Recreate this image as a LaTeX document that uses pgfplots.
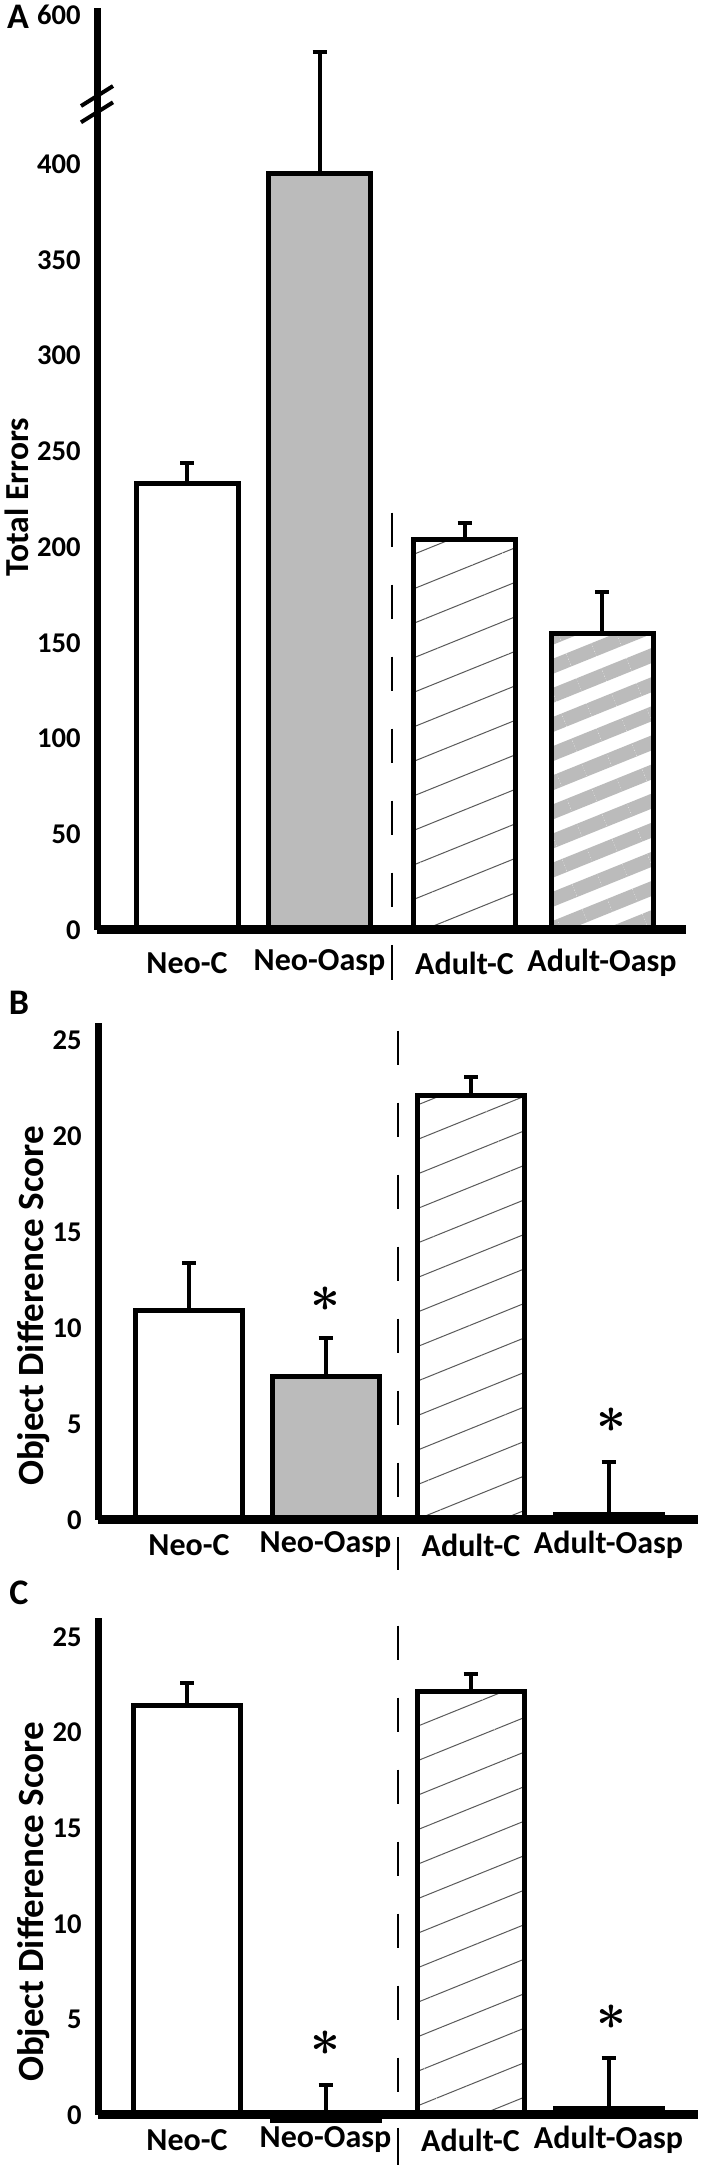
\documentclass[border=0pt]{standalone}
\usepackage{pgfplots}
\pgfplotsset{compat=1.18}
\usepackage{graphicx}
\usepackage{fontspec}
\setmainfont{Carlito}
\usetikzlibrary{patterns.meta}

\definecolor{barGray}{RGB}{187,187,187}
\definecolor{hatchGray}{RGB}{90,90,90}

\pgfplotsset{
  panel/.style={
    scale only axis, anchor=south west, clip=false, axis on top,
    axis x line*=bottom, axis y line*=left,
    x axis line style={line width=4.5pt,-},
    y axis line style={line width=3.5pt,-},
    xmin=0, ymin=0, major tick length=0pt,
    xticklabels={Neo-C,Neo-Oasp,Adult-C,Adult-Oasp},
    xticklabel style={font=\bfseries\fontsize{16}{18}\selectfont, anchor=center, inner sep=0pt},
    yticklabel style={font=\bfseries\fontsize{14.3}{16}\selectfont, anchor=east, inner sep=0pt, xshift=-8pt},
    error bars/y dir=plus, error bars/y explicit,
    error bars/error bar style={line width=2pt, black, solid},
    error bars/error mark options={rotate=90, line width=2pt, mark size=3.5pt, black, solid},
  },
  plain bar/.style={ybar, bar shift=0pt, draw=black, line width=2.5pt, fill=white},
  gray bar/.style={ybar, bar shift=0pt, draw=black, line width=2.5pt, fill=barGray},
  hatch bar/.style={ybar, bar shift=0pt, draw=black, line width=2.5pt, preaction={fill=white},
    pattern={Lines[angle=22,distance=16pt,line width=0.5pt]}, pattern color=hatchGray},
  stripe bar/.style={ybar, bar shift=0pt, draw=black, line width=2.5pt, preaction={fill=white},
    pattern={Lines[angle=22,distance=13.5pt,line width=7pt]}, pattern color=barGray},
}
\tikzset{divider/.style={line width=1.3pt, dash pattern=on 17pt off 19pt}}

\newcommand{\sig}{\scalebox{2.6}{\boldmath$\ast$}}

\begin{document}
\begin{tikzpicture}
\path[use as bounding box] (0,0) rectangle (354.5pt,1085.5pt);

% A: total errors (axis broken above 430, so the top is compressed: 600 sits at 477.8)
\begin{axis}[panel, at={(48.5pt,620.5pt)}, width=294.5pt, height=461pt,
  xmax=5.89, ymax=481.5, bar width=1.02,
  xtick={0.90,2.225,3.675,5.05},
  ytick={0,50,100,150,200,250,300,350,400,477.8},
  yticklabels={0,50,100,150,200,250,300,350,400,600},
  xticklabel style={yshift=-16.5pt}]
\addplot[plain bar]  coordinates {(0.90,233) +- (0,11)};
\addplot[gray bar]   coordinates {(2.225,395) +- (0,63.5)};
\addplot[hatch bar]  coordinates {(3.675,204) +- (0,8.5)};
\addplot[stripe bar] coordinates {(5.05,154.7) +- (0,22)};
\draw[line width=2pt] ([xshift=-8pt,yshift=-5pt]axis cs:0,435.5) -- ([xshift=8pt,yshift=5pt]axis cs:0,435.5);
\draw[line width=2pt] ([xshift=-8pt,yshift=-5pt]axis cs:0,427) -- ([xshift=8pt,yshift=5pt]axis cs:0,427);
\draw[divider] (axis cs:2.95,218) -- (axis cs:2.95,0);
\draw[line width=1.3pt] ([yshift=-7.5pt]axis cs:2.95,0) -- ([yshift=-25pt]axis cs:2.95,0);
\end{axis}

% B
\begin{axis}[panel, at={(49pt,325.5pt)}, width=300pt, height=248.5pt,
  xmax=6.0, ymax=25.9, bar width=1.07,
  xtick={0.91,2.275,3.73,5.105},
  ytick={0,5,10,15,20,25}, yticklabels={0,5,10,15,20,25},
  xticklabel style={yshift=-12.5pt}]
\addplot[plain bar]  coordinates {(0.91,10.9) +- (0,2.5)};
\addplot[gray bar]   coordinates {(2.275,7.5) +- (0,2.0)};
\addplot[hatch bar]  coordinates {(3.73,22.1) +- (0,1.0)};
\addplot[stripe bar] coordinates {(5.105,0.3) +- (0,2.7)};
\draw[divider] (axis cs:3.0,25.5) -- (axis cs:3.0,0);
\draw[line width=1.3pt] ([yshift=-8.5pt]axis cs:3.0,0) -- ([yshift=-25pt]axis cs:3.0,0);
\node at (axis cs:2.275,11.5) {\sig};
\node at (axis cs:5.13,5.2) {\sig};
\end{axis}

% C
\begin{axis}[panel, at={(49pt,28pt)}, width=300pt, height=248.5pt,
  xmax=6.0, ymax=26.0, bar width=1.07,
  xtick={0.89,2.275,3.725,5.105},
  ytick={0,5,10,15,20,25}, yticklabels={0,5,10,15,20,25},
  xticklabel style={yshift=-12.5pt}]
\addplot[plain bar]  coordinates {(0.89,21.4) +- (0,1.2)};
\addplot[gray bar]   coordinates {(2.275,-0.3) +- (0,1.85)};
\addplot[hatch bar]  coordinates {(3.725,22.15) +- (0,0.9)};
\addplot[stripe bar] coordinates {(5.105,0.35) +- (0,2.65)};
\draw[divider] (axis cs:3.0,25.6) -- (axis cs:3.0,0);
\draw[line width=1.3pt] ([yshift=-6.5pt]axis cs:3.0,0) -- ([yshift=-25pt]axis cs:3.0,0);
\node at (axis cs:2.275,3.77) {\sig};
\node at (axis cs:5.13,5.1) {\sig};
\end{axis}

\node[rotate=90, font=\bfseries\fontsize{16.8}{18}\selectfont] at (8.5pt,837pt) {Total Errors};
\node[rotate=90, font=\bfseries\fontsize{18.5}{20}\selectfont] at (17pt,432.5pt) {Object Difference Score};
\node[rotate=90, font=\bfseries\fontsize{18.5}{20}\selectfont] at (17pt,134.5pt) {Object Difference Score};
\node[font=\bfseries\fontsize{18}{20}\selectfont] at (9pt,1077pt) {A};
\node[font=\bfseries\fontsize{18}{20}\selectfont] at (9.5pt,584pt) {B};
\node[font=\bfseries\fontsize{18}{20}\selectfont] at (9.5pt,289pt) {C};
\end{tikzpicture}
\end{document}
